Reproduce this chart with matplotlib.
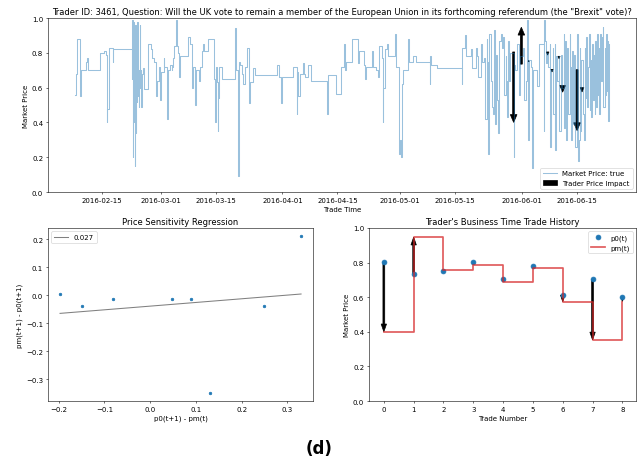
import numpy as np
import pandas as pd
import matplotlib
matplotlib.use("Agg")
import matplotlib.pyplot as plt
import matplotlib.dates as mdates
import matplotlib.patches as mpatches
from matplotlib.lines import Line2D

# market price history, time given as days since 2016-02-01
market_day = [
    7.13, 7.38, 7.64, 8.40, 8.53, 8.66, 9.93, 10.31, 10.60, 13.57, 14.50, 15.00,
    15.27, 15.40, 15.90, 16.80, 16.93, 21.63, 21.71, 21.89, 22.02, 22.14, 22.27,
    22.40, 22.52, 22.65, 22.78, 22.90, 23.03, 23.16, 23.29, 23.41, 23.54, 23.67,
    23.80, 23.92, 24.05, 24.17, 24.60, 24.85, 25.70, 25.86, 26.46, 26.70, 27.40,
    27.73, 27.98, 28.58, 28.83, 29.08, 29.76, 29.93, 30.53, 30.69, 30.95, 31.37,
    31.80, 32.00, 32.20, 32.50, 32.80, 33.07, 33.30, 33.66, 33.90, 36.03, 36.54,
    36.90, 37.10, 37.30, 37.70, 37.98, 38.70, 39.00, 39.60, 39.85, 40.10, 41.10,
    42.50, 42.60, 42.90, 43.05, 43.30, 43.50, 43.70, 43.80, 44.70, 47.90, 48.10,
    48.80, 49.00, 49.25, 49.60, 50.00, 50.40, 50.90, 51.00, 51.50, 51.70, 52.60,
    53.00, 58.70, 59.10, 59.60, 59.80, 62.70, 63.70, 63.80, 64.00, 64.40, 65.30,
    65.50, 65.70, 66.50, 67.20, 67.40, 71.30, 71.50, 73.70, 74.80, 75.70, 76.00,
    76.30, 77.60, 79.20, 79.50, 80.70, 81.00, 81.30, 82.80, 83.00, 83.80, 84.30,
    84.70, 85.40, 85.60, 85.70, 86.20, 86.50, 86.80, 88.70, 88.90, 89.80, 89.90,
    90.30, 90.50, 90.80, 92.00, 92.20, 93.30, 94.00, 97.50, 97.60, 97.80, 99.30,
    105.30, 105.60, 105.80, 106.60, 106.70, 107.90, 108.30, 109.20, 109.60,
    109.80, 110.45, 110.90, 111.30, 111.55, 112.00, 112.10, 112.45, 112.70,
    113.00, 113.30, 113.50, 113.90, 114.10, 114.40, 114.70, 115.00, 115.20,
    115.60, 115.80, 116.10, 116.30, 116.50, 116.80, 116.90, 117.10, 117.50,
    117.80, 118.00, 118.85, 118.95, 119.30, 119.70, 120.15, 120.60, 121.20,
    121.50, 121.90, 122.20, 122.50, 122.80, 123.20, 123.60, 123.90, 124.90,
    125.40, 126.50, 126.60, 126.90, 127.10, 127.30, 127.70, 128.00, 128.20,
    128.40, 128.80, 129.00, 129.30, 129.40, 129.70, 130.00, 130.30, 130.50,
    130.90, 131.10, 131.60, 131.70, 132.00, 132.20, 132.40, 132.80, 133.10,
    133.30, 133.50, 133.70, 133.90, 134.10, 134.40, 134.50, 135.00, 135.20,
    135.50, 135.70, 135.80, 136.10, 136.50, 136.70, 136.90, 137.10, 137.40,
    137.50, 137.80, 138.00, 138.20, 138.40, 138.50, 138.80, 139.00, 139.20,
    139.50, 139.60, 139.90, 140.00, 140.30, 140.50, 140.70, 140.90, 141.10,
    141.30, 141.60, 141.70, 142.00, 142.20, 142.40, 142.60, 142.80, 143.00,
    143.20,
]
market_price = [
    0.56, 0.68, 0.88, 0.81, 0.55, 0.70, 0.75, 0.77, 0.70, 0.80, 0.81, 0.79,
    0.40, 0.48, 0.83, 0.75, 0.82, 0.65, 0.99, 0.20, 0.98, 0.40, 0.93,
    0.15, 0.96, 0.34, 0.95, 0.52, 0.98, 0.55, 0.70, 0.49, 0.70, 0.96,
    0.60, 0.70, 0.49, 0.68, 0.71, 0.59, 0.68, 0.85, 0.82, 0.77, 0.75,
    0.55, 0.64, 0.72, 0.53, 0.69, 0.77, 0.72, 0.70, 0.42, 0.70, 0.73,
    0.70, 0.72, 0.77, 0.84, 0.99, 0.84, 0.80, 0.66, 0.78, 0.89, 0.85,
    0.68, 0.60, 0.72, 0.50, 0.70, 0.64, 0.72, 0.81, 0.85, 0.81, 0.88,
    0.73, 0.65, 0.40, 0.72, 0.63, 0.35, 0.54, 0.72, 0.65, 0.94, 0.70,
    0.09, 0.75, 0.73, 0.68, 0.62, 0.72, 0.73, 0.83, 0.51, 0.63, 0.71,
    0.67, 0.73, 0.66, 0.51, 0.66, 0.72, 0.45, 0.69, 0.55, 0.68, 0.74,
    0.68, 0.66, 0.73, 0.68, 0.64, 0.45, 0.67, 0.565, 0.72, 0.85, 0.70,
    0.75, 0.88, 0.74, 0.81, 0.73, 0.65, 0.72, 0.81, 0.72, 0.70, 0.66,
    0.84, 0.77, 0.40, 0.60, 0.82, 0.85, 0.78, 0.91, 0.72, 0.22, 0.30,
    0.20, 0.62, 0.70, 0.88, 0.75, 0.78, 0.75, 0.62, 0.78, 0.73, 0.71,
    0.71, 0.62, 0.83, 0.90, 0.78, 0.82, 0.71, 0.83, 0.78,
    0.66, 0.85, 0.75, 0.77, 0.42, 0.88, 0.75, 0.22, 0.91,
    0.64, 0.49, 0.45, 0.93, 0.39, 0.79, 0.53, 0.34, 0.87,
    0.91, 0.83, 0.89, 0.79, 0.56, 0.78, 0.64, 0.43, 0.87,
    0.64, 0.80, 0.20, 0.73, 0.70, 0.85, 0.56, 0.78, 0.83,
    0.53, 0.64, 0.99, 0.30, 0.76, 0.72, 0.14, 0.70, 0.61,
    0.85, 0.35, 0.99, 0.87, 0.74, 0.80, 0.72, 0.85, 0.26,
    0.70, 0.83, 0.45, 0.85, 0.24, 0.78, 0.64, 0.78, 0.35,
    0.79, 0.60, 0.91, 0.37, 0.87, 0.30, 0.83, 0.45, 0.91,
    0.72, 0.30, 0.81, 0.39, 0.79, 0.49, 0.26, 0.91, 0.18,
    0.30, 0.83, 0.35, 0.76, 0.45, 0.30, 0.83, 0.54, 0.89,
    0.49, 0.72, 0.91, 0.47, 0.76, 0.43, 0.85, 0.53, 0.79,
    0.45, 0.87, 0.49, 0.91, 0.56, 0.83, 0.45, 0.91, 0.64,
    0.89, 0.95, 0.49, 0.83, 0.56, 0.91, 0.58, 0.87, 0.41,
    0.85,
]

# the trader's own trades
trade_day = [118.86, 120.82, 122.68, 127.51, 128.63, 130.41, 131.33, 135.0, 136.27]
p0 = [0.805, 0.735, 0.75, 0.805, 0.705, 0.78, 0.612, 0.703, 0.60]
pm = [0.40, 0.947, 0.757, 0.787, 0.69, 0.766, 0.574, 0.353, 0.575]

# price sensitivity points
sens_x = [-0.197, -0.150, -0.082, 0.048, 0.090, 0.130, 0.250, 0.330]
sens_y = [0.005, -0.040, -0.015, -0.015, -0.015, -0.350, -0.040, 0.212]
fit_label = "0.027"

start = pd.Timestamp("2016-02-01")
mdays = start + pd.to_timedelta(market_day, unit="D")
tdays = start + pd.to_timedelta(trade_day, unit="D")


def impact_arrow(ax, x, a, b, width, head_width, head_length):
    # heads shrink for tiny price moves so they don't dwarf the move itself
    frac = min(1.0, abs(b - a) / head_length)
    ax.arrow(x, a, 0, b - a, width=width * max(frac, 0.3),
             head_width=head_width * frac, head_length=head_length * frac,
             length_includes_head=True, color="black")


DPI = 50
fig = plt.figure(figsize=(639 / DPI, 464 / DPI), dpi=DPI)

# top: market price over time
ax = fig.add_axes([0.0751, 0.584, 0.9202, 0.375])
ax.plot(mdays, market_price, drawstyle="steps-post", color="tab:blue", alpha=0.45, lw=1.5)
for d, a, b in zip(mdates.date2num(tdays), p0, pm):
    impact_arrow(ax, d, a, b, 0.5, 1.7, 0.045)
ax.set_ylim(0, 1)
ax.xaxis.set_major_locator(mdates.DayLocator(bymonthday=[1, 15]))
ax.xaxis.set_major_formatter(mdates.DateFormatter("%Y-%m-%d"))
ax.set_xlabel("Trade Time")
ax.set_ylabel("Market Price")
ax.set_title('Trader ID: 3461, Question: Will the UK vote to remain a member of the European '
             'Union in its forthcoming referendum (the "Brexit" vote)?')
handles = [Line2D([], [], color="tab:blue", alpha=0.45, lw=1.5),
           mpatches.Patch(color="black")]
ax.legend(handles, ["Market Price: true", "Trader Price Impact"], loc="lower right")

# bottom left: regression
ax2 = fig.add_axes([0.0751, 0.1336, 0.4149, 0.3729])
ax2.scatter(sens_x, sens_y, s=14, color="tab:blue")
slope, icpt = np.polyfit(sens_x, sens_y, 1)
xs = np.array(sens_x)
ax2.plot(xs, slope * xs + icpt, color="gray", label=fit_label)
ax2.set_title("Price Sensitivity Regression")
ax2.set_xlabel("p0(t+1) - pm(t)")
ax2.set_ylabel("pm(t+1) - p0(t+1)")
ax2.legend(loc="upper left")

# bottom right: business time history
ax3 = fig.add_axes([0.5775, 0.1336, 0.4178, 0.3729])
n = np.arange(len(p0))
ax3.plot(n, p0, "o", color="tab:blue", ms=7, label="p0(t)")
ax3.plot(n, pm, drawstyle="steps-post", color="tab:red", alpha=0.75, lw=2.5, label="pm(t)")
for i, a, b in zip(n, p0, pm):
    impact_arrow(ax3, i, a, b, 0.06, 0.18, 0.045)
ax3.set_ylim(0, 1)
ax3.set_title("Trader's Business Time Trade History")
ax3.set_xlabel("Trade Number")
ax3.set_ylabel("Market Price")
ax3.legend(loc="upper right")

fig.text(0.5, 0.032, "(d)", ha="center", va="center", fontsize=24, fontweight="bold")

fig.savefig("out.png", dpi=DPI)
